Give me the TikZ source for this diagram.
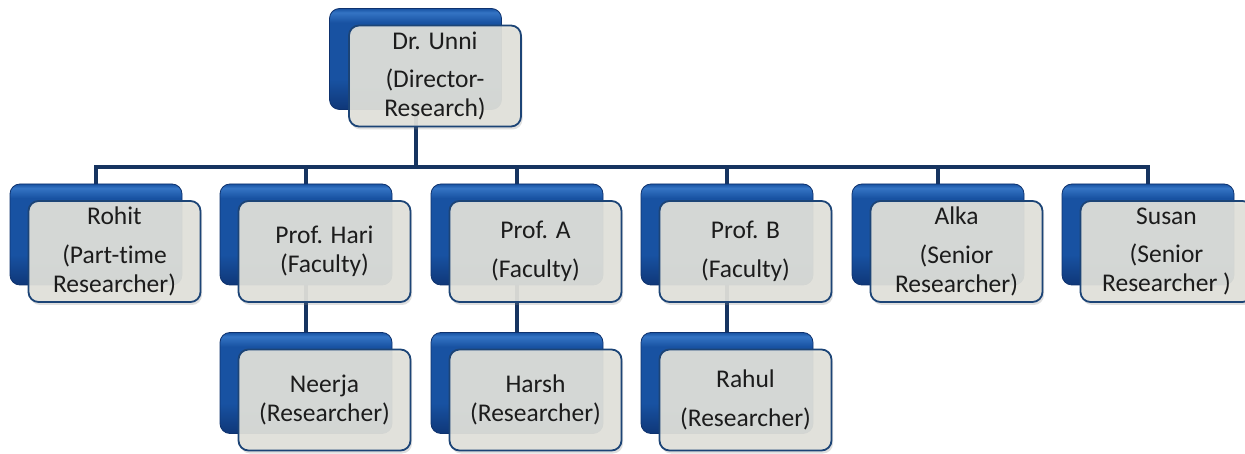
\documentclass[tikz,border=0pt]{standalone}
\usepackage{fontspec}
\setmainfont{Carlito}[Ligatures=NoCommon]
\usetikzlibrary{shadows}
\pgfdeclarelayer{bg}
\pgfsetlayers{bg,main}
\definecolor{navy}{RGB}{22,52,96}
\definecolor{fborder}{RGB}{28,68,118}
\definecolor{ffill}{RGB}{226,226,219}
\definecolor{btop}{RGB}{52,116,196}
\definecolor{bmid}{RGB}{24,82,162}
\definecolor{bbot}{RGB}{15,55,120}
\definecolor{bedge}{RGB}{14,50,110}
\definecolor{txt}{RGB}{28,28,28}
\pgfdeclareverticalshading{bluebox}{100bp}{color(0bp)=(bbot); color(25bp)=(bbot); color(40bp)=(bmid); color(68bp)=(bmid); color(73bp)=(btop); color(75bp)=(bmid); color(100bp)=(bmid)}
\begin{document}
\begin{tikzpicture}[x=1pt,y=-1pt,
  backbox/.style={rectangle, rounded corners=10pt, minimum width=172pt, minimum height=101pt, inner sep=0pt,
    shading=bluebox, draw=bedge, line width=0.8pt},
  frontbox/.style={rectangle, rounded corners=10pt, minimum width=172pt, minimum height=101pt, inner sep=0pt,
    fill=ffill, fill opacity=0.92, text opacity=1, draw=fborder, line width=1.8pt, align=center, text=txt,
    font=\fontsize{25.5}{29}\selectfont,
    drop shadow={shadow xshift=1.5pt, shadow yshift=-3pt, opacity=0.25}},
  conn/.style={draw=navy, line width=4pt}]
\useasboundingbox (0,0) rectangle (1245,454);
% top
\node[backbox] (topb) at (415.5,59) {};
\node[frontbox] (top) at (435,76) {Dr. Unni\\[9.5pt](Director-\\Research)};
% row 1
\node[backbox] (rohitb) at (96,234.5) {};
\node[frontbox] (rohit) at (114.5,251.5) {Rohit\\[9.5pt](Part-time\\Researcher)};
\node[backbox] (harib) at (306,234.5) {};
\node[frontbox] (hari) at (324.5,251.5) {Prof. Hari\\(Faculty)};
\node[backbox] (profab) at (517,234.5) {};
\node[frontbox] (profa) at (535.5,251.5) {Prof. A\\[9.5pt](Faculty)};
\node[backbox] (profbb) at (727,234.5) {};
\node[frontbox] (profb) at (745.5,251.5) {Prof. B\\[9.5pt](Faculty)};
\node[backbox] (alkab) at (938,234.5) {};
\node[frontbox] (alka) at (956.5,251.5) {Alka\\[9.5pt](Senior\\Researcher)};
\node[backbox] (susanb) at (1148,234.5) {};
\node[frontbox] (susan) at (1166.5,251.5) {Susan\\[9.5pt](Senior\\Researcher~)};
% row 2
\node[backbox] (neerjab) at (306,383) {};
\node[frontbox] (neerja) at (324.5,400) {Neerja\\(Researcher)};
\node[backbox] (harshb) at (517,383) {};
\node[frontbox] (harsh) at (535.5,400) {Harsh\\(Researcher)};
\node[backbox] (rahulb) at (727,383) {};
\node[frontbox] (rahul) at (745.5,400) {Rahul\\[9.5pt](Researcher)};
\coordinate (bus) at (415.5,167);
\begin{pgfonlayer}{bg}
\fill[white] (0,0) rectangle (1245,454);
\draw[conn] (topb.center) -- (topb.center |- bus);
\draw[conn] (rohitb.center) -- (rohitb.center |- bus) -- (susanb.center |- bus) -- (susanb.center);
\foreach \n in {harib,profab,profbb,alkab}
  \draw[conn] (\n.center) -- (\n.center |- bus);
\draw[conn] (harib.center) -- (neerjab.center);
\draw[conn] (profab.center) -- (harshb.center);
\draw[conn] (profbb.center) -- (rahulb.center);
\end{pgfonlayer}
\end{tikzpicture}
\end{document}
